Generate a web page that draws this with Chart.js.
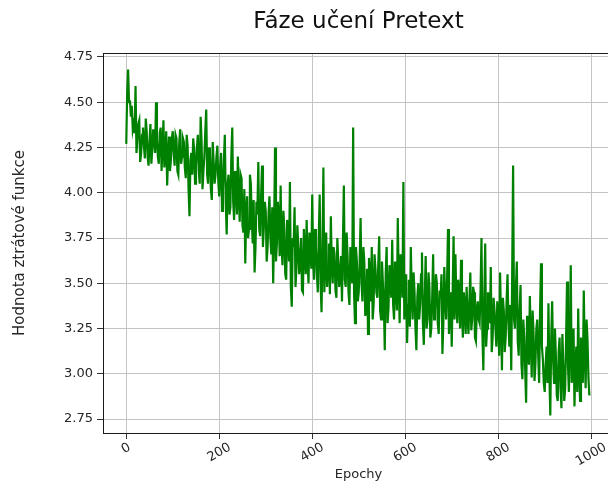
<!DOCTYPE html>
<html>
<head>
<meta charset="utf-8">
<script src="https://cdn.jsdelivr.net/npm/chart.js@4.4.1/dist/chart.umd.min.js"></script>
<style>
  html, body { margin: 0; padding: 0; background: #ffffff; overflow: hidden; width: 608px; height: 488px; }
  canvas { display: block; }
</style>
</head>
<body>
<canvas id="c" width="625" height="488" style="width:625px;height:488px"></canvas>
<script>
// ---- Data ----
const chartTitle = "Fáze učení Pretext";
const xAxisTitle = "Epochy";
const yAxisTitle = "Hodnota ztrátové funkce";
const epochStep = 4; // main samples every 4 epochs, in-between samples 2 epochs later
const xTickValues = [0, 200, 400, 600, 800, 1000];
const yTickValues = [2.75, 3.00, 3.25, 3.50, 3.75, 4.00, 4.25, 4.50, 4.75];

// values at epochs 0,4,8,...
const loss000 = [4.27, 4.68, 4.51, 4.48, 4.38, 4.59, 4.30, 4.40, 4.22, 4.36, 4.19, 4.34, 4.15, 4.38, 4.24, 4.30, 4.50, 4.20, 4.33, 4.12, 4.40, 4.22, 4.04, 4.31, 4.18];
const loss100 = [4.34, 4.15, 4.30, 4.10, 4.35, 4.20, 4.28, 4.08, 4.26, 3.87, 4.22, 4.30, 4.05, 4.25, 4.12, 4.42, 4.02, 4.20, 4.46, 4.05, 4.22, 3.96, 4.17, 4.10, 4.26];
const loss200 = [3.98, 4.22, 4.02, 4.32, 3.77, 4.10, 3.92, 4.36, 3.85, 4.05, 4.20, 3.84, 4.08, 3.78, 3.61, 3.98, 3.80, 4.05, 3.72, 3.56, 3.95, 4.17, 3.76, 4.15, 3.82];
const loss300 = [3.90, 3.70, 3.98, 3.66, 3.50, 4.25, 3.72, 3.86, 4.04, 3.60, 3.80, 3.52, 3.78, 4.06, 3.37, 3.70, 3.48, 3.82, 3.55, 3.75, 3.45, 3.68, 3.85, 3.50, 3.72];
const loss400 = [3.99, 3.52, 3.70, 3.45, 3.99, 3.34, 4.14, 3.60, 3.48, 3.72, 3.87, 3.50, 3.66, 3.42, 3.62, 3.55, 3.40, 4.04, 3.48, 3.65, 3.38, 3.58, 4.36, 3.28, 3.62];
const loss500 = [3.45, 3.86, 3.40, 3.62, 3.35, 3.22, 3.55, 3.70, 3.38, 3.58, 3.42, 3.76, 3.30, 3.50, 3.13, 3.70, 3.36, 3.52, 3.74, 3.30, 3.48, 3.86, 3.28, 3.60, 4.06];
const loss600 = [3.40, 3.17, 3.52, 3.70, 3.30, 3.45, 3.13, 3.50, 3.38, 3.67, 3.16, 3.65, 3.30, 3.48, 3.25, 3.66, 3.35, 3.50, 3.22, 3.42, 3.11, 3.59, 3.30, 3.80, 3.35];
const loss700 = [3.15, 3.76, 3.66, 3.28, 3.42, 3.63, 3.20, 3.38, 3.48, 3.22, 3.56, 3.30, 3.45, 3.18, 3.40, 3.28, 3.75, 3.02, 3.72, 3.25, 3.40, 3.59, 3.20, 3.35, 3.15];
const loss800 = [3.30, 3.56, 3.02, 3.35, 3.20, 3.55, 3.15, 3.02, 4.15, 3.25, 3.62, 3.10, 3.49, 2.97, 3.20, 2.84, 3.15, 3.43, 2.98, 3.22, 3.05, 3.30, 2.95, 3.61, 3.08];
const loss900 = [2.90, 3.15, 3.39, 2.77, 3.40, 2.95, 3.10, 2.85, 3.20, 2.81, 3.05, 2.92, 3.51, 2.90, 3.60, 3.00, 2.82, 3.15, 3.36, 2.85, 3.10, 3.46, 2.92, 3.19, 2.88];

// values at epochs 2,6,10,... (last one omitted: the series ends at epoch 996)
const mid000 = [4.55, 4.50, 4.42, 4.35, 4.33, 4.22, 4.38, 4.17, 4.32, 4.26, 4.41, 4.20, 4.28, 4.16, 4.35, 4.22, 4.29, 4.16, 4.36, 4.25, 4.14, 4.34, 4.20, 4.12, 4.30];
const mid100 = [4.22, 4.32, 4.12, 4.28, 4.16, 4.30, 4.14, 4.32, 4.02, 4.18, 4.10, 4.24, 4.15, 4.32, 4.05, 4.28, 4.12, 4.34, 4.10, 4.25, 4.02, 4.28, 4.05, 4.20, 4.06];
const mid200 = [4.15, 3.90, 4.18, 3.95, 4.05, 3.88, 4.20, 3.95, 4.12, 3.88, 3.98, 4.10, 3.82, 4.02, 3.90, 3.75, 4.10, 3.85, 3.96, 3.70, 3.88, 3.80, 3.98, 3.70, 3.95];
const mid300 = [3.62, 3.88, 3.75, 3.92, 3.80, 3.62, 3.95, 3.65, 3.72, 3.90, 3.55, 3.85, 3.62, 3.48, 3.75, 3.92, 3.58, 3.70, 3.62, 3.46, 3.80, 3.55, 3.62, 3.78, 3.58];
const mid400 = [3.62, 3.80, 3.55, 3.75, 3.50, 3.68, 3.45, 3.78, 3.58, 3.44, 3.60, 3.70, 3.46, 3.75, 3.48, 3.65, 3.72, 3.52, 3.78, 3.45, 3.70, 3.50, 3.44, 3.70, 3.40];
const mid500 = [3.62, 3.50, 3.70, 3.32, 3.58, 3.64, 3.40, 3.30, 3.66, 3.45, 3.60, 3.35, 3.62, 3.40, 3.55, 3.28, 3.60, 3.42, 3.38, 3.62, 3.35, 3.50, 3.66, 3.42, 3.30];
const mid600 = [3.55, 3.38, 3.26, 3.45, 3.56, 3.25, 3.42, 3.30, 3.55, 3.28, 3.42, 3.25, 3.56, 3.20, 3.42, 3.30, 3.55, 3.28, 3.46, 3.55, 3.28, 3.40, 3.52, 3.22, 3.45];
const mid700 = [3.45, 3.30, 3.40, 3.52, 3.25, 3.35, 3.45, 3.22, 3.32, 3.40, 3.24, 3.48, 3.20, 3.36, 3.30, 3.46, 3.22, 3.40, 3.15, 3.45, 3.28, 3.12, 3.42, 3.25, 3.40];
const mid800 = [3.10, 3.30, 3.42, 3.12, 3.40, 3.28, 3.38, 3.55, 3.30, 3.48, 3.18, 3.35, 3.05, 3.30, 3.02, 3.32, 3.05, 3.20, 3.35, 2.96, 3.25, 3.10, 3.35, 3.15, 2.95];
const mid900 = [3.05, 2.95, 3.00, 3.20, 3.08, 3.25, 2.88, 3.12, 2.92, 3.22, 2.85, 3.20, 3.05, 3.18, 2.95, 3.25, 3.05, 2.90, 3.02, 3.20, 2.95, 3.12, 3.30, 2.98];

const lossMain = [].concat(loss000, loss100, loss200, loss300, loss400, loss500, loss600, loss700, loss800, loss900);
const lossMid = [].concat(mid000, mid100, mid200, mid300, mid400, mid500, mid600, mid700, mid800, mid900);
const points = [];
lossMain.forEach((v, i) => {
  points.push({ x: i * epochStep, y: v });
  if (i < lossMid.length) points.push({ x: i * epochStep + epochStep / 2, y: lossMid[i] });
});

const FONT = "'DejaVu Sans', sans-serif";
const TEXT = "#262626";

const decorPlugin = {
  id: 'decor',
  afterDraw(chart) {
    const { ctx, chartArea, scales } = chart;
    ctx.save();
    ctx.strokeStyle = '#1a1a1a';
    ctx.lineWidth = 1;
    ctx.strokeRect(Math.round(chartArea.left) + 0.5, Math.round(chartArea.top) + 0.5,
                   Math.round(chartArea.right - chartArea.left), Math.round(chartArea.bottom - chartArea.top));
    ctx.fillStyle = '#111111';
    ctx.font = "23px " + FONT;
    ctx.textAlign = 'center';
    ctx.textBaseline = 'middle';
    ctx.fillText(chartTitle, (chartArea.left + chartArea.right) / 2, 22);
    ctx.font = "13px " + FONT;
    ctx.fillStyle = TEXT;
    const ang = 30 * Math.PI / 180;
    const top = chartArea.bottom + 6 + 3;
    xTickValues.forEach(v => {
      const label = String(v);
      const px = scales.x.getPixelForValue(v);
      const w = ctx.measureText(label).width;
      const h = 10;
      const bh = w * Math.sin(ang) + h * Math.cos(ang);
      ctx.save();
      ctx.translate(px, top + bh / 2);
      ctx.rotate(-ang);
      ctx.textAlign = 'center';
      ctx.textBaseline = 'middle';
      ctx.fillText(label, 0, 0);
      ctx.restore();
    });
    ctx.restore();
  }
};

new Chart(document.getElementById('c'), {
  type: 'line',
  data: {
    datasets: [{
      data: points,
      borderColor: '#008000',
      borderWidth: 2.2,
      pointRadius: 0,
      tension: 0,
      fill: false
    }]
  },
  options: {
    responsive: false,
    animation: false,
    devicePixelRatio: 1,
    layout: { padding: { top: 53, right: 11, left: 0, bottom: 0 } },
    plugins: {
      legend: { display: false },
      title: { display: false },
      tooltip: { enabled: false }
    },
    scales: {
      x: {
        type: 'linear',
        min: -50,
        max: 1049,
        afterBuildTicks: (s) => { s.ticks = xTickValues.map(v => ({ value: v })); },
        afterFit: (s) => { s.height = 55; },
        grid: { color: '#c4c4c4', lineWidth: 1, tickColor: '#333333', tickLength: 6, drawTicks: true },
        border: { display: true, color: '#1a1a1a', width: 1 },
        ticks: { display: true, callback: () => '', maxRotation: 0, minRotation: 0 },
        title: {
          display: true, text: xAxisTitle, color: TEXT,
          font: { family: FONT, size: 13 }, padding: { top: 0, bottom: 6 }
        }
      },
      y: {
        type: 'linear',
        min: 2.673,
        max: 4.772,
        afterBuildTicks: (s) => { s.ticks = yTickValues.map(v => ({ value: v })); },
        afterFit: (s) => { s.width = 103; },
        grid: { color: '#c4c4c4', lineWidth: 1, tickColor: '#333333', tickLength: 6 },
        border: { display: true, color: '#1a1a1a', width: 1 },
        ticks: {
          color: TEXT, font: { family: FONT, size: 13 }, padding: 4,
          callback: (v) => Number(v).toFixed(2)
        },
        title: {
          display: true, text: yAxisTitle, color: TEXT,
          font: { family: FONT, size: 15 }, padding: { top: 11, bottom: 0 }
        }
      }
    }
  },
  plugins: [decorPlugin]
});
</script>
</body>
</html>
